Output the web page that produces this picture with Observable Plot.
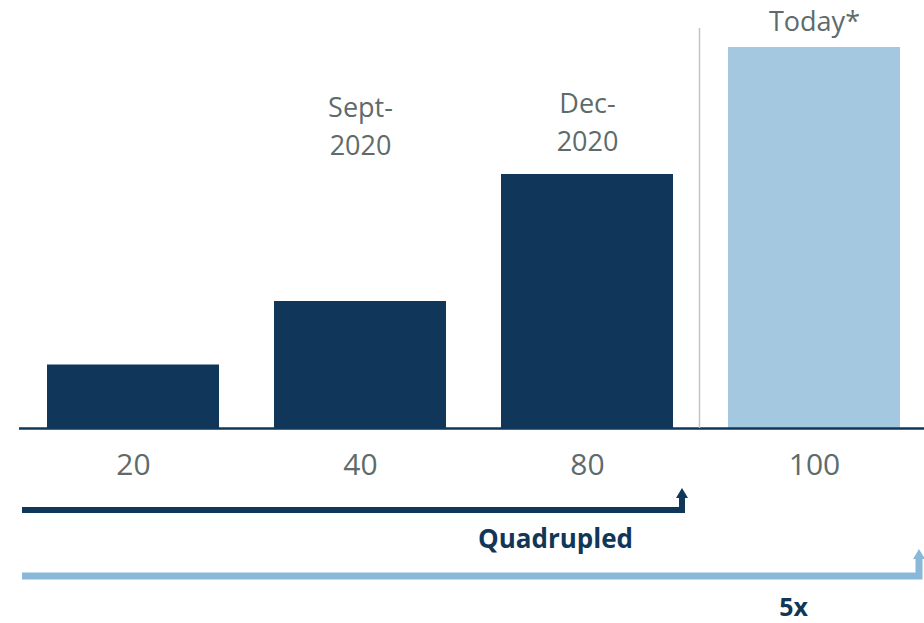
<!DOCTYPE html>
<html><head><meta charset="utf-8">
<script src="https://cdn.jsdelivr.net/npm/d3@7"></script>
<script src="https://cdn.jsdelivr.net/npm/@observablehq/plot@0.6"></script>
<style>html,body{margin:0;padding:0;background:#fff}</style>
</head><body><div id="chart"></div>
<script>
// Values shown under each bar (category tick labels)
const valueLabels = ["20", "40", "80", "100"];
// Period labels above bars
const periodLabels = ["", "Sept-\n2020", "Dec-\n2020", "Today*"];
// Bar heights as drawn in the picture (the "Today*" bar is drawn taller than its label)
const barHeights = [20, 40, 80, 120];
// Growth annotations
const arrowLabels = ["Quadrupled", "5x"];
const arrowTargets = ["80", "100"];

const NAVY = "#10375a", LIGHT = "#a4c8df", ARROW_LIGHT = "#8ab8d8", GRAY = "#5d6b6b";

const data = valueLabels.map((v, i) => ({cat: v, period: periodLabels[i], h: barHeights[i], today: i === valueLabels.length - 1}));
const arrows = arrowLabels.map((l, i) => ({label: l, to: arrowTargets[i]}));

function annotations(...args) {
  const scales = args.find(a => a && typeof a.x === "function" && typeof a.y === "function");
  const {x, y} = scales;
  const bw = typeof x.bandwidth === "function" ? x.bandwidth() : x.bandwidth;
  const y0 = y(0);
  const g = d3.create("svg:g");
  // separator between historic and today
  const sepX = (x("80") + bw + x("100")) / 2 - 1;
  g.append("line").attr("x1", sepX).attr("x2", sepX).attr("y1", 28).attr("y2", y0)
    .attr("stroke", "#c4c4c4").attr("stroke-width", 1.5);
  const specs = [
    {to: arrows[0].to, color: NAVY, t: 6, shaft: y0 + 82, tip: y0 + 60, off: 9},
    {to: arrows[1].to, color: ARROW_LIGHT, t: 7, shaft: y0 + 148, tip: y0 + 121, off: 19}
  ];
  for (const s of specs) {
    const ex = x(s.to) + bw + s.off;
    const hh = 10, hw = 6;
    g.append("path")
      .attr("d", `M22,${s.shaft}H${ex}V${s.tip + hh}`)
      .attr("fill", "none").attr("stroke", s.color).attr("stroke-width", s.t)
      .attr("stroke-linejoin", "miter");
    g.append("path")
      .attr("d", `M${ex - hw},${s.tip + hh}L${ex + hw},${s.tip + hh}L${ex},${s.tip}Z`)
      .attr("fill", s.color);
  }
  return g.node();
}

const chart = Plot.plot({
  width: 924, height: 623, margin: 0,
  style: {fontFamily: "'Open Sans', sans-serif", background: "#fff", overflow: "visible"},
  x: {domain: valueLabels, range: [19, 928], paddingInner: 0.243, paddingOuter: 0.12, axis: null},
  y: {domain: [0, 120], range: [428, 47], axis: null},
  marks: [
    Plot.barY(data, {filter: d => !d.today, x: "cat", y: "h", fill: NAVY}),
    Plot.barY(data, {filter: d => d.today, x: "cat", y: "h", fill: LIGHT}),
    Plot.ruleY([0], {insetLeft: 19, stroke: NAVY, strokeWidth: 2.5}),
    annotations,
    Plot.text(data, {x: "cat", y: 0, text: "cat", lineAnchor: "top", dy: 25, fontSize: 30, fill: GRAY}),
    Plot.text(data, {filter: d => d.cat === "40", x: "cat", text: "period", frameAnchor: "top", lineAnchor: "top", dy: 90, fontSize: 27, lineHeight: 1.4, fill: GRAY}),
    Plot.text(data, {filter: d => d.cat === "80", x: "cat", text: "period", frameAnchor: "top", lineAnchor: "top", dy: 86, fontSize: 27, lineHeight: 1.4, fill: GRAY}),
    Plot.text(data, {filter: d => d.today, x: "cat", text: "period", frameAnchor: "top", lineAnchor: "top", dy: 11, fontSize: 27, fill: GRAY}),
    Plot.text([arrows[0]], {x: "to", y: 0, text: "label", lineAnchor: "top", dx: -32, dy: 101, fontSize: 26, fontWeight: "bold", fill: NAVY}),
    Plot.text([arrows[1]], {x: "to", y: 0, text: "label", lineAnchor: "top", dx: -21, dy: 170, fontSize: 25, fontWeight: "bold", fill: NAVY})
  ]
});
document.getElementById("chart").appendChild(chart);
</script>
</body></html>
